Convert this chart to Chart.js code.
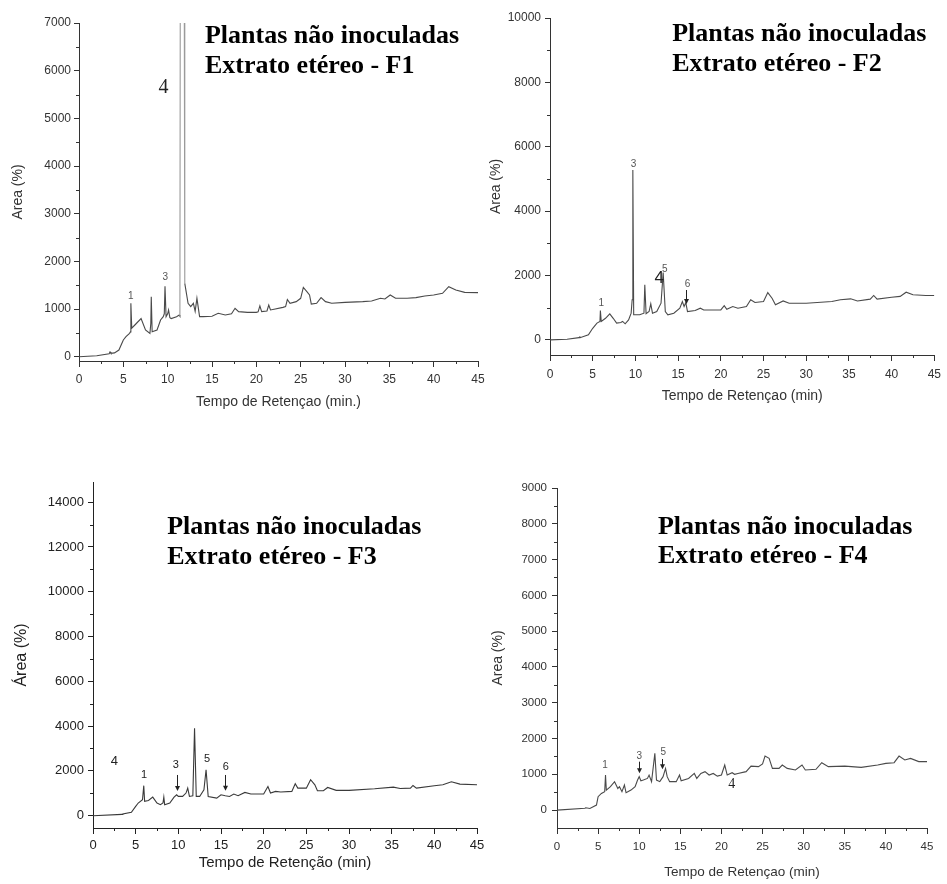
<!DOCTYPE html>
<html>
<head>
<meta charset="utf-8">
<script src="https://cdn.jsdelivr.net/npm/chart.js@4"></script>
<style>
  body { margin: 0; background: #fff; width: 947px; height: 884px; position: relative; overflow: hidden; }
  canvas { position: absolute; }
</style>
</head>
<body>
<canvas id="f1" width="490" height="420" style="left:0;top:0"></canvas>
<canvas id="f2" width="472" height="420" style="left:475px;top:0"></canvas>
<canvas id="f3" width="490" height="444" style="left:0;top:440px"></canvas>
<canvas id="f4" width="472" height="444" style="left:475px;top:440px"></canvas>
<script>
// retention time (min) / area pairs
const f1Trace = [[0,0],[2,20],[3.4,60],[3.5,100],[3.6,70],[4,80],[4.5,140],[5,350],[5.3,420],[5.7,490],[5.8,520],[5.85,1120],[5.95,600],
  [6.3,665],[7.0,800],[7.5,560],[8.0,490],[8.1,700],[8.15,1260],[8.25,525],[8.8,560],[9.2,770],[9.5,840],[9.62,900],[9.7,1480],[9.82,840],
  [10.0,900],[10.1,980],[10.25,820],[10.4,800],[11.0,840],[11.3,875],[11.38,850],[11.43,9000],[11.86,9000],[11.93,1540],[12.3,1120],
  [12.6,1050],[12.9,1120],[13.1,950],[13.3,1225],[13.6,840],[14.0,840],[15.0,850],[15.7,910],[16.5,875],[17.2,900],[17.6,1015],[18.0,945],
  [19,930],[20,930],[20.2,940],[20.4,1065],[20.6,945],[21.2,960],[21.4,1085],[21.6,980],[22,995],[23,1035],[23.3,1050],[23.5,1200],
  [23.8,1120],[24.5,1155],[25.0,1225],[25.3,1455],[25.7,1365],[26.0,1295],[26.2,1105],[26.8,1120],[27.3,1240],[27.8,1155],[28.5,1120],
  [30,1140],[32,1155],[33,1170],[34,1225],[34.5,1210],[35.1,1295],[35.7,1225],[37,1225],[38,1240],[39,1275],[40,1295],[41,1330],
  [41.7,1470],[42.5,1400],[43.5,1350],[45,1345]];

const f2Trace = [[0,0],[2,20],[3.4,70],[3.5,90],[3.6,75],[4.5,155],[5,360],[5.5,520],[5.85,570],[5.9,910],[6.0,570],[6.5,670],[7.0,810],
  [7.4,670],[7.8,520],[8.3,540],[8.5,575],[8.8,500],[9.2,620],[9.5,830],[9.62,1245],[9.7,5280],[9.8,780],[10.5,780],[11.0,830],[11.1,1710],
  [11.25,810],[11.6,880],[11.8,1120],[12.0,830],[12.5,880],[13.0,1140],[13.25,2090],[13.5,880],[13.8,780],[14.5,830],[15.2,985],
  [15.5,1190],[15.7,1035],[15.9,1160],[16.1,880],[17.0,910],[17.6,985],[18.0,930],[20.0,930],[20.4,1065],[20.7,950],[21.4,1035],
  [22,985],[23,1035],[23.5,1245],[24,1160],[25,1190],[25.5,1470],[26,1295],[26.4,1090],[27.3,1210],[28,1140],[30,1140],[33,1190],
  [34,1245],[35.2,1275],[36,1210],[37.5,1265],[37.9,1380],[38.3,1265],[40,1325],[41,1350],[41.7,1480],[42.5,1400],[44,1380],[45,1380]];

const f3Trace = [[0,0],[3.4,60],[3.5,75],[4.5,150],[5.0,415],[5.3,565],[5.8,710],[5.95,1340],[6.05,640],[6.5,680],[7.0,830],[7.5,565],
  [7.9,490],[8.2,565],[8.3,830],[8.4,490],[9.0,565],[9.5,830],[9.8,935],[10.0,860],[10.5,860],[10.9,1010],[11.1,1230],[11.3,860],
  [11.7,890],[11.9,3905],[12.1,860],[12.5,860],[13.0,1160],[13.25,2050],[13.5,860],[14.5,785],[15.0,935],[15.5,890],[16,860],[16.5,965],
  [17,890],[17.8,1040],[18.5,965],[20,965],[20.5,1305],[20.8,1010],[21.4,1085],[22,1055],[23.3,1085],[23.7,1425],[24,1230],[25,1230],
  [25.5,1605],[26,1380],[26.3,1115],[27,1115],[27.5,1260],[28.5,1130],[30,1130],[33,1200],[35.2,1275],[36,1215],[37.2,1230],[37.5,1350],
  [37.9,1230],[40,1335],[41,1380],[42,1515],[43,1410],[45,1380]];

const f4Trace = [[0,0],[3.4,50],[3.5,65],[4.0,45],[4.8,140],[5.0,375],[5.4,465],[5.8,515],[5.9,980],[6.0,560],[6.5,655],[7.0,795],
  [7.4,605],[7.6,655],[7.9,515],[8.2,700],[8.4,485],[9.0,560],[9.5,655],[9.8,840],[10.0,935],[10.2,820],[10.5,840],[11.0,885],[11.2,980],
  [11.5,795],[11.9,1585],[12.1,840],[12.5,795],[12.9,935],[13.2,1165],[13.4,935],[13.7,795],[14.5,795],[14.9,980],[15.1,820],[16,885],
  [16.7,1025],[17.0,885],[17.5,1025],[18,1075],[18.5,980],[19,1025],[19.5,950],[20.0,980],[20.4,1260],[20.7,980],[21.3,1045],[21.6,1000],
  [22,1025],[23,1075],[23.6,1230],[24.5,1215],[25.0,1290],[25.3,1510],[25.8,1445],[26.2,1165],[27,1165],[27.4,1260],[28,1165],[29,1120],
  [29.8,1260],[30.2,1120],[31.5,1140],[32.2,1325],[33,1215],[35,1230],[37,1195],[39,1260],[40,1305],[41,1325],[41.6,1510],[42.3,1400],
  [43,1445],[44,1355],[45,1355]];

const xTicks = [0, 5, 10, 15, 20, 25, 30, 35, 40, 45];
const f1YTicks = [0, 1000, 2000, 3000, 4000, 5000, 6000, 7000];
const f2YTicks = [0, 2000, 4000, 6000, 8000, 10000];
const f3YTicks = [0, 2000, 4000, 6000, 8000, 10000, 12000, 14000];
const f4YTicks = [0, 1000, 2000, 3000, 4000, 5000, 6000, 7000, 8000, 9000];

const headingTop = 'Plantas não inoculadas';
const headingSub = ['Extrato etéreo - F1', 'Extrato etéreo - F2', 'Extrato etéreo - F3', 'Extrato etéreo - F4'];

// peak numbers: [time, area, text]
const f1Peaks = [[5.83, 1210, '1'], [9.73, 1608, '3']];
const f2Peaks = [[6.01, 1052, '1'], [9.77, 5380, '3'], [13.45, 2118, '5'], [16.09, 1642, '6']];
const f3Peaks = [[5.98, 1670, '1'], [9.69, 2117, '3'], [13.36, 2412, '5'], [15.56, 2041, '6']];
const f4Peaks = [[5.84, 1168, '1'], [10.01, 1420, '3'], [12.93, 1540, '5']];
// the loose "4" marks
const f1Four = [9.53, 5531];
const f2Four = [12.79, 1776];
const f3Four = [2.5, 2264];
const f4Four = [21.25, 610];
// arrows: [time, from area, to area]
const f2Arrows = [[15.94, 1549, 1114]];
const f3Arrows = [[9.81, 1818, 1103], [15.52, 1818, 1117]];
const f4Arrows = [[9.98, 1353, 1029], [12.81, 1428, 1140]];

function midpoints(arr) {
  const out = [];
  for (let i = 0; i < arr.length - 1; i++) out.push((arr[i] + arr[i + 1]) / 2);
  return out;
}

function extrasPlugin(p) {
  return {
    id: 'extras',
    afterDatasetsDraw(chart) {
      const { ctx } = chart;
      const x = chart.scales.x, y = chart.scales.y;
      ctx.save();
      // minor ticks
      ctx.strokeStyle = p.axisColor;
      ctx.lineWidth = 1;
      ctx.beginPath();
      midpoints(xTicks).forEach(v => {
        const px = Math.round(x.getPixelForValue(v)) + 0.5;
        ctx.moveTo(px, x.top); ctx.lineTo(px, x.top + 3);
      });
      p.yMinor.forEach(v => {
        const py = Math.round(y.getPixelForValue(v)) + 0.5;
        ctx.moveTo(y.right - 3, py); ctx.lineTo(y.right, py);
      });
      ctx.stroke();

      // heading
      ctx.fillStyle = '#000';
      ctx.font = 'bold 26px "Liberation Serif"';
      ctx.textAlign = 'left';
      ctx.textBaseline = 'alphabetic';
      ctx.fillText(headingTop, x.getPixelForValue(p.heading[0]), y.getPixelForValue(p.heading[1]));
      ctx.fillText(p.sub, x.getPixelForValue(p.heading[0]), y.getPixelForValue(p.heading[2]));

      // peak numbers
      ctx.textAlign = 'center';
      ctx.fillStyle = p.peakColor;
      ctx.font = p.peakFont;
      p.peaks.forEach(([t, a, s]) => ctx.fillText(s, x.getPixelForValue(t), y.getPixelForValue(a)));

      ctx.fillStyle = '#222';
      ctx.font = p.fourFont;
      ctx.fillText('4', x.getPixelForValue(p.four[0]), y.getPixelForValue(p.four[1]));

      // arrows
      ctx.strokeStyle = '#222';
      ctx.fillStyle = '#222';
      p.arrows.forEach(([t, a1, a2]) => {
        const px = Math.round(x.getPixelForValue(t)) + 0.5;
        const y1 = y.getPixelForValue(a1), y2 = y.getPixelForValue(a2);
        ctx.beginPath();
        ctx.moveTo(px, y1); ctx.lineTo(px, y2 - 4);
        ctx.stroke();
        ctx.beginPath();
        ctx.moveTo(px - 2.5, y2 - 5); ctx.lineTo(px + 2.5, y2 - 5); ctx.lineTo(px, y2);
        ctx.closePath();
        ctx.fill();
      });
      ctx.restore();
    }
  };
}

function drawPanel(p) {
  const ctx = document.getElementById(p.id).getContext('2d');
  const ds = {
    data: p.trace.map(([t, a]) => ({ x: t, y: a })),
    borderColor: p.lineColor,
    borderWidth: 1.1,
    pointRadius: 0,
    tension: 0,
    fill: false
  };
  if (p.spike) {
    ds.segment = {
      borderColor: c => (c.p0.parsed.x >= p.spike[0] && c.p1.parsed.x <= p.spike[1]) ? '#9a9a9a' : undefined
    };
  }
  return new Chart(ctx, {
    type: 'line',
    data: { datasets: [ds] },
    options: {
      responsive: false,
      animation: false,
      events: [],
      layout: { padding: { top: p.padTop, right: p.padRight, left: 0, bottom: 0 } },
      plugins: { legend: { display: false }, tooltip: { enabled: false } },
      scales: {
        x: {
          type: 'linear',
          min: 0,
          max: 45,
          afterFit: s => { s.height = p.xHeight; },
          afterBuildTicks: s => { s.ticks = xTicks.map(v => ({ value: v })); },
          grid: { drawOnChartArea: false, drawTicks: true, tickLength: 6, color: p.axisColor },
          border: { display: true, color: p.axisColor, width: 1 },
          ticks: { callback: v => String(v), color: p.tickColor, padding: p.xTickPad, maxRotation: 0,
                   font: { family: 'Liberation Sans', size: p.tickSize } },
          title: { display: true, text: p.xTitle, color: p.tickColor,
                   font: { family: 'Liberation Sans', size: p.xTitleSize },
                   padding: { top: 0, bottom: p.xTitlePad } }
        },
        y: {
          type: 'linear',
          min: p.yMin,
          max: p.yMax,
          afterFit: s => { s.width = p.yWidth; },
          afterBuildTicks: s => { s.ticks = p.yTicks.map(v => ({ value: v })); },
          grid: { drawOnChartArea: false, drawTicks: true, tickLength: 5, color: p.axisColor },
          border: { display: true, color: p.axisColor, width: 1 },
          ticks: { callback: v => String(v), color: p.tickColor, padding: p.yTickPad,
                   font: { family: 'Liberation Sans', size: p.tickSize } },
          title: { display: true, text: p.yTitle, color: p.tickColor,
                   font: { family: 'Liberation Sans', size: p.yTitleSize },
                   padding: { top: p.yTitlePad, bottom: 0 } }
        }
      }
    },
    plugins: [extrasPlugin(p)]
  });
}

drawPanel({
  id: 'f1', trace: f1Trace, spike: [11.38, 11.93], yTicks: f1YTicks, yMinor: midpoints(f1YTicks),
  yMin: -90, yMax: 7000, padTop: 23, padRight: 12, yWidth: 79, xHeight: 59,
  lineColor: '#4a4a4a', axisColor: '#333', tickColor: '#333', tickSize: 12,
  xTickPad: 5, yTickPad: 3, xTitle: 'Tempo de Retençao (min.)', xTitleSize: 14, xTitlePad: 9,
  yTitle: 'Area (%)', yTitleSize: 14, yTitlePad: 10,
  heading: [14.2, 6580, 5951], sub: headingSub[0],
  peaks: f1Peaks, peakFont: '10px "Liberation Sans"', peakColor: '#555',
  four: f1Four, fourFont: '20px "Liberation Serif"', arrows: []
});

drawPanel({
  id: 'f2', trace: f2Trace, yTicks: f2YTicks, yMinor: midpoints(f2YTicks),
  yMin: -470, yMax: 10000, padTop: 18, padRight: 10, yWidth: 75, xHeight: 65,
  lineColor: '#4a4a4a', axisColor: '#333', tickColor: '#333', tickSize: 12,
  xTickPad: 6, yTickPad: 4, xTitle: 'Tempo de Retençao (min)', xTitleSize: 14, xTitlePad: 15,
  yTitle: 'Area (%)', yTitleSize: 14, yTitlePad: 13,
  heading: [14.3, 9285, 8353], sub: headingSub[1],
  peaks: f2Peaks, peakFont: '10px "Liberation Sans"', peakColor: '#555',
  four: f2Four, fourFont: '17px "Liberation Sans"', arrows: f2Arrows
});

drawPanel({
  id: 'f3', trace: f3Trace, yTicks: f3YTicks, yMinor: midpoints(f3YTicks),
  yMin: -550, yMax: 14900, padTop: 42, padRight: 13, yWidth: 93, xHeight: 56,
  lineColor: '#3a3a3a', axisColor: '#222', tickColor: '#222', tickSize: 13,
  xTickPad: 4, yTickPad: 4, xTitle: 'Tempo de Retenção (min)', xTitleSize: 15, xTitlePad: 12,
  yTitle: 'Área (%)', yTitleSize: 16, yTitlePad: 12,
  heading: [8.69, 12578, 11239], sub: headingSub[2],
  peaks: f3Peaks, peakFont: '11px "Liberation Sans"', peakColor: '#222',
  four: f3Four, fourFont: '13px "Liberation Sans"', arrows: f3Arrows
});

drawPanel({
  id: 'f4', trace: f4Trace, yTicks: f4YTicks, yMinor: midpoints(f4YTicks),
  yMin: -500, yMax: 9000, padTop: 48, padRight: 20, yWidth: 82, xHeight: 56,
  lineColor: '#4a4a4a', axisColor: '#333', tickColor: '#333', tickSize: 11.5,
  xTickPad: 6, yTickPad: 5, xTitle: 'Tempo de Retençao (min)', xTitleSize: 13.5, xTitlePad: 4,
  yTitle: 'Area (%)', yTitleSize: 14, yTitlePad: 15,
  heading: [12.28, 7715, 6905], sub: headingSub[3],
  peaks: f4Peaks, peakFont: '10px "Liberation Sans"', peakColor: '#555',
  four: f4Four, fourFont: '14px "Liberation Serif"', arrows: f4Arrows
});
</script>
</body>
</html>
